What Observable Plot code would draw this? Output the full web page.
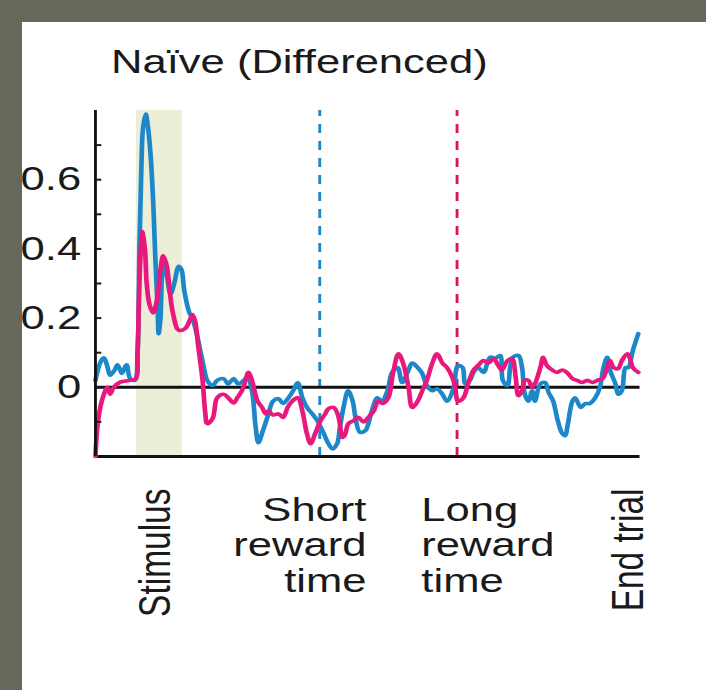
<!DOCTYPE html>
<html>
<head>
<meta charset="utf-8">
<script src="https://cdn.jsdelivr.net/npm/d3@7"></script>
<script src="https://cdn.jsdelivr.net/npm/@observablehq/plot@0.6"></script>
<style>
  html, body { margin: 0; padding: 0; }
  body { width: 706px; height: 690px; overflow: hidden; background: #67685b; position: relative; }
  #panel { position: absolute; left: 22px; top: 22px; width: 684px; height: 668px; background: #fff; overflow: hidden; }
  #chart { width: 526px; transform: scaleX(1.3); transform-origin: 0 0; }
  #chart svg { overflow: visible; }
</style>
</head>
<body>
<div id="panel"><div id="chart"></div></div>
<script>
// Differenced population response, naive animals: [time (s from stimulus onset), response]
const blueTrace = [
  [-0.45,0.02],[-0.40,0.07],[-0.36,0.085],[-0.32,0.06],[-0.29,0.035],[-0.24,0.05],[-0.21,0.065],
  [-0.18,0.05],[-0.16,0.04],[-0.11,0.065],[-0.07,0.025],[-0.02,0.02],[0.01,0.10],[0.03,0.40],
  [0.05,0.62],[0.07,0.75],[0.10,0.79],[0.12,0.76],[0.15,0.68],[0.18,0.54],[0.20,0.40],[0.23,0.22],
  [0.24,0.155],[0.26,0.20],[0.29,0.36],[0.33,0.32],[0.37,0.27],[0.41,0.30],[0.46,0.35],[0.49,0.34],
  [0.52,0.28],[0.57,0.22],[0.62,0.19],[0.66,0.15],[0.70,0.10],[0.74,0.05],[0.77,0.02],[0.83,0.005],
  [0.88,0.02],[0.95,0.025],[1.00,0.01],[1.06,0.025],[1.11,0.01],[1.17,0.02],[1.21,0.03],[1.26,-0.01],
  [1.30,-0.115],[1.33,-0.16],[1.38,-0.125],[1.44,-0.077],[1.49,-0.04],[1.55,-0.033],[1.60,-0.047],
  [1.66,-0.03],[1.71,-0.01],[1.76,0.013],[1.81,-0.03],[1.86,-0.058],[1.92,-0.077],[1.97,-0.095],
  [2.03,-0.125],[2.08,-0.155],[2.14,-0.178],[2.19,-0.163],[2.22,-0.116],[2.26,-0.058],[2.31,-0.01],
  [2.36,-0.04],[2.39,-0.087],[2.44,-0.13],[2.50,-0.125],[2.53,-0.106],[2.57,-0.068],[2.63,-0.03],
  [2.68,-0.04],[2.74,-0.01],[2.79,0.043],[2.85,0.057],[2.90,0.014],[2.96,0.043],[3.01,0.07],
  [3.07,0.057],[3.12,0.04],[3.17,0.005],[3.23,-0.01],[3.28,-0.004],[3.34,-0.02],[3.39,-0.04],
  [3.46,-0.004],[3.51,0.063],[3.56,0.057],[3.59,0.01],[3.64,0.02],[3.68,0.043],[3.73,0.057],
  [3.79,0.043],[3.86,0.087],[3.92,0.084],[3.97,0.092],[4.00,0.02],[4.05,0.005],[4.08,0.057],
  [4.11,0.087],[4.17,0.092],[4.21,0.057],[4.24,-0.02],[4.28,-0.04],[4.32,-0.01],[4.35,-0.04],
  [4.41,0.01],[4.46,0.014],[4.50,-0.015],[4.55,-0.04],[4.60,-0.096],[4.65,-0.134],[4.68,-0.14],
  [4.71,-0.106],[4.76,-0.04],[4.79,-0.03],[4.85,-0.058],[4.90,-0.047],[4.95,-0.047],[5.01,-0.03],
  [5.06,0],[5.10,0.057],[5.14,0.087],[5.17,0.05],[5.23,0.01],[5.26,-0.02],[5.30,-0.01],[5.34,0.057],
  [5.37,0.057],[5.42,0.106],[5.48,0.155]
];
const pinkTrace = [
  [-0.45,-0.20],[-0.42,-0.095],[-0.37,-0.03],[-0.32,0],[-0.29,-0.02],[-0.25,0],[-0.18,0.015],
  [-0.07,0.02],[-0.01,0.025],[0.01,0.10],[0.03,0.30],[0.05,0.42],[0.06,0.45],[0.09,0.40],[0.11,0.30],
  [0.14,0.24],[0.18,0.215],[0.22,0.25],[0.26,0.34],[0.29,0.38],[0.33,0.35],[0.36,0.28],[0.40,0.21],
  [0.46,0.165],[0.53,0.17],[0.59,0.20],[0.61,0.21],[0.64,0.19],[0.67,0.125],[0.72,0.02],[0.75,-0.075],
  [0.77,-0.105],[0.83,-0.09],[0.88,-0.03],[0.95,-0.02],[1.00,-0.03],[1.06,-0.045],[1.10,-0.03],
  [1.15,-0.01],[1.19,0.02],[1.22,0.043],[1.26,0.02],[1.32,-0.04],[1.37,-0.058],[1.41,-0.077],
  [1.44,-0.068],[1.49,-0.08],[1.55,-0.077],[1.60,-0.087],[1.65,-0.058],[1.70,-0.04],[1.76,-0.03],
  [1.81,-0.068],[1.86,-0.134],[1.90,-0.163],[1.95,-0.134],[2.01,-0.096],[2.06,-0.077],[2.09,-0.063],
  [2.15,-0.058],[2.20,-0.08],[2.25,-0.145],[2.28,-0.134],[2.31,-0.106],[2.37,-0.096],[2.42,-0.087],
  [2.48,-0.10],[2.53,-0.087],[2.59,-0.068],[2.64,-0.04],[2.69,-0.047],[2.75,-0.03],[2.80,0.04],
  [2.86,0.097],[2.91,0.07],[2.97,0],[3.01,-0.058],[3.07,-0.04],[3.12,-0.01],[3.17,0.02],[3.23,0.07],
  [3.28,0.097],[3.34,0.07],[3.39,0.057],[3.45,0.028],[3.48,0],[3.51,-0.04],[3.57,-0.03],[3.62,0.01],
  [3.68,0.05],[3.73,0.063],[3.79,0.077],[3.84,0.07],[3.90,0.083],[3.95,0.063],[3.99,0.05],[4.05,0.077],
  [4.10,0.083],[4.14,0.03],[4.17,-0.024],[4.21,-0.01],[4.24,0.02],[4.28,0.02],[4.32,0],[4.35,0.01],
  [4.41,0.057],[4.44,0.087],[4.48,0.063],[4.54,0.05],[4.59,0.043],[4.65,0.05],[4.70,0.043],
  [4.76,0.025],[4.81,0.02],[4.87,0.014],[4.92,0.02],[4.98,0.014],[5.03,0.02],[5.09,0.025],
  [5.14,0.057],[5.17,0.077],[5.21,0.057],[5.26,0.054],[5.30,0.077],[5.36,0.097],[5.39,0.083],
  [5.42,0.057],[5.48,0.043]
];

// Trial structure (s)
const trialWindow = [-0.45, 5.5];
const stimulusWindow = [{start: 0, end: 0.5}];
const shortRewardTime = [2.0];
const longRewardTime = [3.5];

// Axis values
const yDomain = [-0.2, 0.8];
const yTickValues = [-0.1, 0, 0.1, 0.2, 0.3, 0.4, 0.5, 0.6, 0.7];
const yLabelValues = [0, 0.2, 0.4, 0.6];

// Event labels under the time axis
const rotatedLabels = [{t: 0.2, text: "Stimulus"}, {t: 5.37, text: "End trial"}];
const shortLabel = [{t: 2.51, text: "Short\nreward\ntime"}];
const longLabel = [{t: 3.11, text: "Long\nreward\ntime"}];
const title = "Naïve (Differenced)";

const BLUE = "#1c87c9";
const PINK = "#e8187c";
const FONT = "'Liberation Sans', Arial, Helvetica, sans-serif";
const FS = 33.5;

const toRows = (trace) => trace.map(([t, v]) => ({t, v}));

const chart = Plot.plot({
  width: 526,
  height: 668,
  marginLeft: 56,
  marginRight: 51,
  marginTop: 88,
  marginBottom: 234,
  x: {domain: trialWindow, axis: null},
  y: {domain: yDomain, axis: null},
  style: {fontFamily: FONT, background: "transparent", color: "#1a1a1a"},
  marks: [
    Plot.rect(stimulusWindow, {x1: "start", x2: "end", fill: "#eceed8"}),
    Plot.ruleX(shortRewardTime, {y1: yDomain[0], y2: yDomain[1], stroke: BLUE, strokeWidth: 2.2, strokeDasharray: "9,8"}),
    Plot.ruleX(longRewardTime, {y1: yDomain[0], y2: yDomain[1], stroke: "#d5185e", strokeWidth: 2.2, strokeDasharray: "9,8"}),
    Plot.ruleY([0], {x1: trialWindow[0], x2: trialWindow[1], stroke: "#111", strokeWidth: 3}),
    Plot.ruleY([yDomain[0]], {x1: trialWindow[0], x2: trialWindow[1], stroke: "#111", strokeWidth: 3}),
    Plot.line(toRows(blueTrace), {x: "t", y: "v", stroke: BLUE, strokeWidth: 3.6, curve: "catmull-rom"}),
    Plot.line(toRows(pinkTrace), {x: "t", y: "v", stroke: PINK, strokeWidth: 3.6, curve: "catmull-rom"}),
    Plot.ruleX([trialWindow[0]], {y1: yDomain[0], y2: yDomain[1], stroke: "#111", strokeWidth: 2.2}),
    // inward ticks every 0.1
    Plot.axisY({ticks: yTickValues, tickSize: 5, dx: 5, tickFormat: () => "", label: null, strokeWidth: 2}),
    // labels at 0, 0.2, 0.4, 0.6
    Plot.axisY({ticks: yLabelValues, tickSize: 0, tickPadding: 11, label: null, fontSize: FS,
      tickFormat: (d) => (d === 0 ? "0" : d3.format(".1f")(d))}),
    Plot.text([title], {frameAnchor: "top-left", dx: 12, dy: -61, textAnchor: "start", fontSize: FS}),
    Plot.text(rotatedLabels, {x: "t", text: "text", frameAnchor: "bottom", dx: 11.5, dy: 32, rotate: -90, textAnchor: "end", fontSize: FS}),
    Plot.text(shortLabel, {x: "t", text: "text", frameAnchor: "bottom", dy: 39, textAnchor: "end", lineAnchor: "top", lineHeight: 1.06, fontSize: FS}),
    Plot.text(longLabel, {x: "t", text: "text", frameAnchor: "bottom", dy: 39, textAnchor: "start", lineAnchor: "top", lineHeight: 1.06, fontSize: FS})
  ]
});

document.getElementById("chart").appendChild(chart);
</script>
</body>
</html>
